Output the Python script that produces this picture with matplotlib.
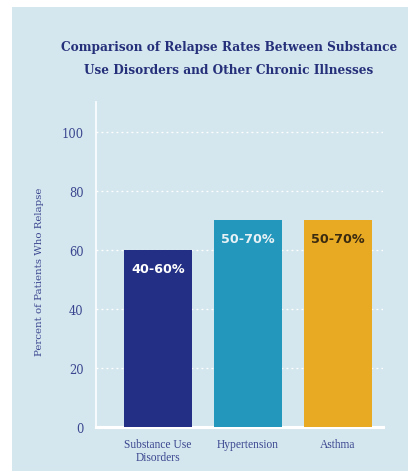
import matplotlib
matplotlib.use("Agg")
import matplotlib.pyplot as plt
from matplotlib.patches import Rectangle

# données
categories = ["Substance Use\nDisorders", "Hypertension", "Asthma"]
valeurs = [60, 70, 70]
etiquettes = ["40-60%", "50-70%", "50-70%"]
couleurs = ["#232f84", "#2498bc", "#e8a923"]
couleurs_texte = ["white", "#e8f2f6", "#3a2a10"]
yticks = [0, 20, 40, 60, 80, 100]

navy = "#3a4790"
fond = "#d5e7ee"

fig = plt.figure(figsize=(4.19, 4.77), dpi=100)
fig.patch.set_facecolor("white")
# panneau bleu clair
fig.patches.append(Rectangle((12 / 419, 5 / 477), 396 / 419, 464 / 477,
                             transform=fig.transFigure, facecolor=fond,
                             edgecolor="none", zorder=-5))

ax = fig.add_axes([96 / 419, 49 / 477, 287 / 419, 325 / 477])
ax.set_facecolor("none")
ax.set_zorder(2)

x = range(len(categories))
bars = ax.bar(x, valeurs, width=0.755, color=couleurs, zorder=3)

for b, lab, c in zip(bars, etiquettes, couleurs_texte):
    ax.text(b.get_x() + b.get_width() / 2, b.get_height() - 4, lab,
            ha="center", va="top", color=c, fontsize=9.2,
            fontweight="bold", family="DejaVu Sans", zorder=4)

ax.set_xlim(-0.69, 2.5)
ax.set_ylim(0, 110)
ax.set_yticks(yticks)
ax.set_xticks(list(x))
ax.set_xticklabels(categories, family="Liberation Serif", fontsize=8.3,
                   color=navy, linespacing=1.05)
ax.set_yticklabels([str(t) for t in yticks], family="DejaVu Serif",
                   fontsize=8.3, color=navy)
ax.tick_params(length=0)
ax.tick_params(axis="y", pad=9)
ax.tick_params(axis="x", pad=8)

ax.yaxis.grid(True, color="white", linestyle=(0, (1.5, 2.5)), linewidth=0.9,
              zorder=1)
ax.set_axisbelow(True)
for s in ["top", "right"]:
    ax.spines[s].set_visible(False)
ax.spines["left"].set_color("white")
ax.spines["left"].set_linewidth(1.2)
ax.spines["bottom"].set_color("white")
ax.spines["bottom"].set_linewidth(2.2)

fig.text(40 / 419, 1 - 272 / 477, "Percent of Patients Who Relapse",
         rotation=90, ha="center", va="center", family="DejaVu Serif",
         fontsize=7.4, color=navy)

fig.text(229 / 419, 1 - 59 / 477,
         "Comparison of Relapse Rates Between Substance\nUse Disorders and Other Chronic Illnesses",
         ha="center", va="center", family="DejaVu Serif", fontweight="bold",
         fontsize=8.7, color="#25307a", linespacing=2.1)

fig.savefig("out.png", dpi=100)
